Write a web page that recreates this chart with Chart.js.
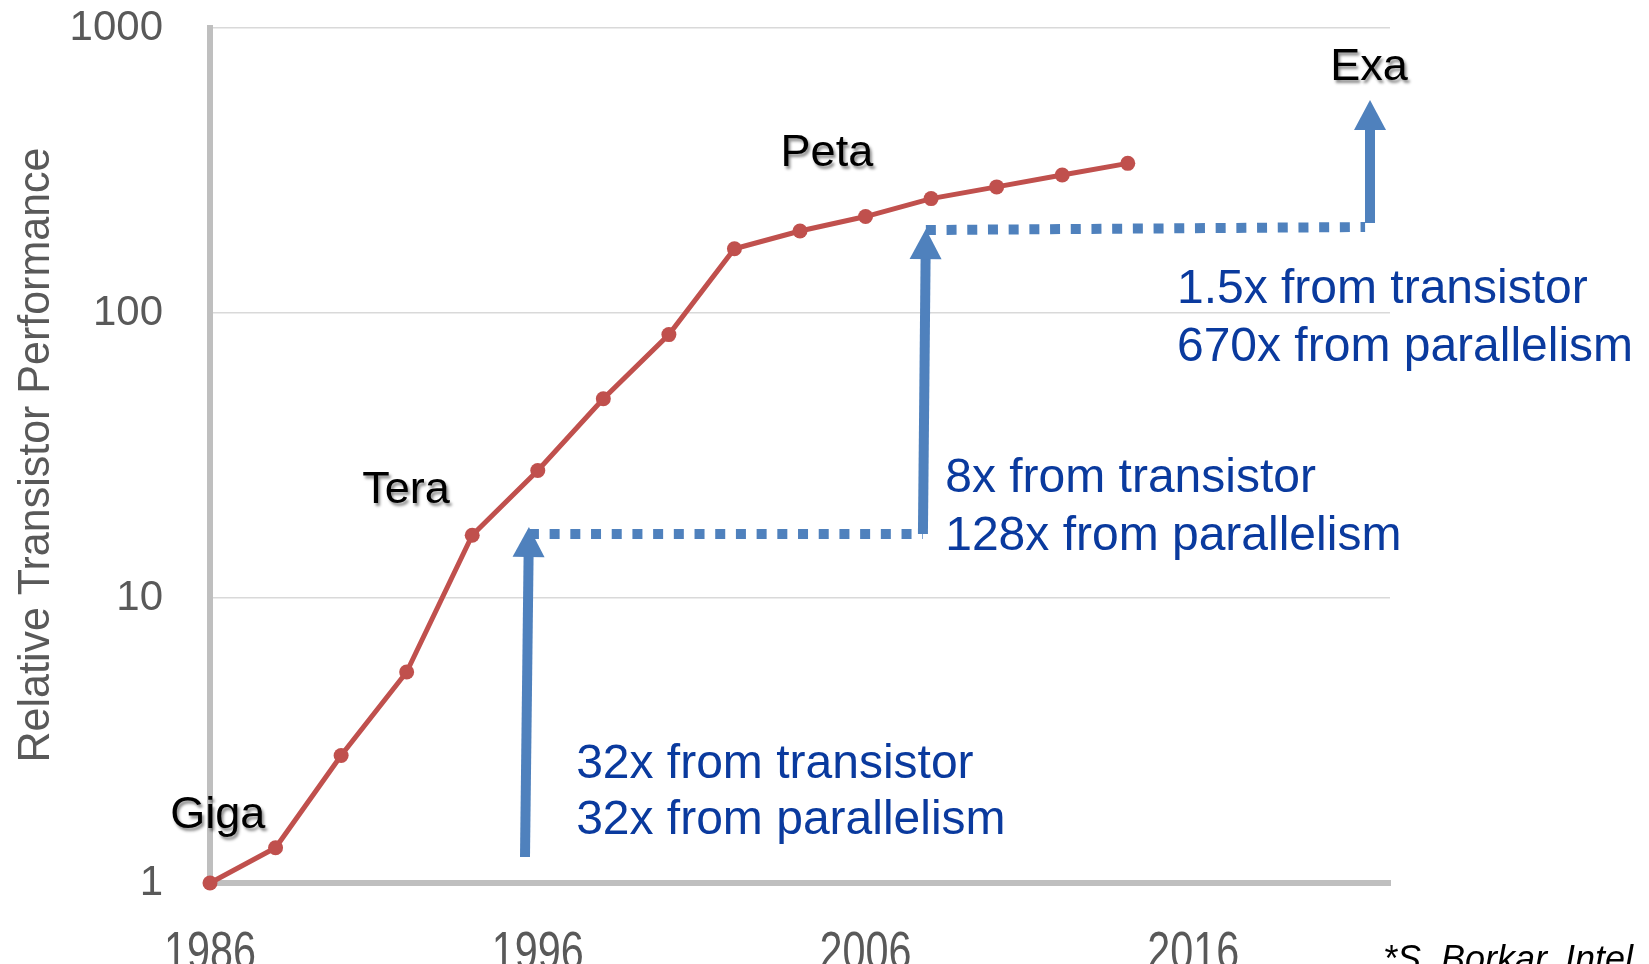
<!DOCTYPE html>
<html>
<head>
<meta charset="utf-8">
<title>Relative Transistor Performance</title>
<script src="https://cdn.jsdelivr.net/npm/chart.js@4/dist/chart.umd.min.js"></script>
<style>
  html, body { margin: 0; padding: 0; background: #ffffff; }
  canvas { display: block; }
</style>
</head>
<body>
<canvas id="chart" width="1649" height="964"></canvas>
<script>
// Relative transistor performance, one sample every two years
const years = [1986, 1988, 1990, 1992, 1994, 1996, 1998, 2000, 2002, 2004, 2006, 2008, 2010, 2012, 2014];
const performance = [1, 1.33, 2.8, 5.5, 16.6, 28, 50, 84, 168, 194, 218, 252, 277, 305, 335];

// Axis ticks
const xTickYears = [1986, 1996, 2006, 2016];
const yTickValues = [1, 10, 100, 1000];

// Era labels (text, year, value at baseline)
const eraNames = ['Giga', 'Tera', 'Peta', 'Exa'];
const eraX = [1986.24, 1991.98, 2004.82, 2021.36];
const eraY = [1.56, 21.5, 328, 657];

// Solid arrows: tail (x, y) -> tip (x, y)
const arrowFromX = [1995.61, 2007.75, 2021.39];
const arrowFromY = [1.234, 16.77, 206.9];
const arrowToX = [1995.73, 2007.84, 2021.39];
const arrowToY = [17.75, 197, 558.7];

// Dotted connectors between the arrows
const linkFromX = [1995.73, 2007.84];
const linkFromY = [16.77, 195.5];
const linkToX = [2007.75, 2021.24];
const linkToY = [16.77, 200.3];

// Gain notes: two lines each, left edge year and baseline values
const gainLine1 = ['32x from transistor', '8x from transistor', '1.5x from transistor'];
const gainLine2 = ['32x from parallelism', '128x from parallelism', '670x from parallelism'];
const gainX = [1997.17, 2008.43, 2015.5];
const gainY1 = [2.335, 23.55, 108.4];
const gainY2 = [1.486, 14.73, 67.9];

const yTitle = 'Relative Transistor Performance';
const sourceNote = '*S. Borkar, Intel';

const FONT = '"Liberation Sans", Arial, Helvetica, sans-serif';
const RED = '#c0504d';
const BLUE = '#4f81bd';
const NOTE_BLUE = '#0a3a9e';
const AXIS_GREY = '#bfbfbf';
const TEXT_GREY = '#595959';

function drawArrow(ctx, x0, y0, x1, y1) {
  const head = 30, half = 16;
  const dx = x1 - x0, dy = y1 - y0;
  const len = Math.hypot(dx, dy);
  const ux = dx / len, uy = dy / len;
  const bx = x1 - ux * head, by = y1 - uy * head;
  ctx.lineWidth = 10;
  ctx.lineCap = 'butt';
  ctx.beginPath();
  ctx.moveTo(x0, y0);
  ctx.lineTo(bx + ux, by + uy);
  ctx.stroke();
  ctx.beginPath();
  ctx.moveTo(x1, y1);
  ctx.lineTo(bx - uy * half, by + ux * half);
  ctx.lineTo(bx + uy * half, by - ux * half);
  ctx.closePath();
  ctx.fill();
}

// Draws text squeezed/stretched along its baseline to a given length
function drawFitted(ctx, text, x, y, font, width, align) {
  ctx.save();
  ctx.font = font;
  const natural = ctx.measureText(text).width;
  const sx = width / natural;
  ctx.translate(x, y);
  ctx.scale(sx, 1);
  ctx.textAlign = align;
  ctx.fillText(text, 0, 0);
  ctx.restore();
}

const annotations = {
  id: 'annotations',
  afterDatasetsDraw(chart) {
    const { ctx, scales: { x, y } } = chart;
    const px = v => x.getPixelForValue(v);
    const py = v => y.getPixelForValue(v);
    ctx.save();

    // dotted connectors
    ctx.strokeStyle = BLUE;
    ctx.lineWidth = 10;
    ctx.lineCap = 'butt';
    ctx.setLineDash([10, 10.7]);
    for (let i = 0; i < linkFromX.length; i++) {
      ctx.beginPath();
      ctx.moveTo(px(linkFromX[i]), py(linkFromY[i]));
      ctx.lineTo(px(linkToX[i]), py(linkToY[i]));
      ctx.stroke();
    }
    ctx.setLineDash([]);

    // arrows
    ctx.fillStyle = BLUE;
    for (let i = 0; i < arrowFromX.length; i++) {
      drawArrow(ctx, px(arrowFromX[i]), py(arrowFromY[i]), px(arrowToX[i]), py(arrowToY[i]));
    }

    // gain notes
    ctx.fillStyle = NOTE_BLUE;
    ctx.font = '48px ' + FONT;
    ctx.textAlign = 'left';
    ctx.textBaseline = 'alphabetic';
    for (let i = 0; i < gainX.length; i++) {
      ctx.fillText(gainLine1[i], px(gainX[i]), py(gainY1[i]));
      ctx.fillText(gainLine2[i], px(gainX[i]), py(gainY2[i]));
    }

    // era labels with a soft drop shadow
    ctx.save();
    ctx.fillStyle = '#000000';
    ctx.font = '45px ' + FONT;
    ctx.textAlign = 'center';
    ctx.shadowColor = 'rgba(0,0,0,0.45)';
    ctx.shadowOffsetX = 2;
    ctx.shadowOffsetY = 3;
    ctx.shadowBlur = 3;
    for (let i = 0; i < eraNames.length; i++) {
      ctx.fillText(eraNames[i], px(eraX[i]), py(eraY[i]));
    }
    ctx.restore();

    ctx.restore();
  },
  afterDraw(chart) {
    const { ctx, scales: { x } } = chart;
    ctx.save();
    ctx.textBaseline = 'alphabetic';

    // x tick labels (tall, narrow digits)
    ctx.fillStyle = TEXT_GREY;
    x.ticks.forEach(t => {
      drawFitted(ctx, String(t.value), x.getPixelForValue(t.value), 969, '54px ' + FONT, 92, 'center');
    });

    // y axis title
    ctx.save();
    ctx.translate(49, 455);
    ctx.rotate(-Math.PI / 2);
    ctx.fillStyle = TEXT_GREY;
    drawFitted(ctx, yTitle, 0, 0, '44px ' + FONT, 615, 'center');
    ctx.restore();

    // source note
    ctx.fillStyle = '#000000';
    ctx.font = 'italic 36px ' + FONT;
    ctx.textAlign = 'left';
    ctx.fillText(sourceNote, 1383, 971);

    ctx.restore();
  }
};

new Chart(document.getElementById('chart'), {
  type: 'line',
  data: {
    datasets: [{
      data: years.map((yr, i) => ({ x: yr, y: performance[i] })),
      borderColor: RED,
      backgroundColor: RED,
      borderWidth: 5,
      pointRadius: 7.5,
      pointBorderWidth: 0,
      pointBackgroundColor: RED,
      tension: 0,
      clip: false
    }]
  },
  options: {
    responsive: false,
    animation: false,
    devicePixelRatio: 1,
    layout: { padding: { top: 28, right: 259, bottom: 0, left: 0 } },
    plugins: {
      legend: { display: false },
      tooltip: { enabled: false },
      title: { display: false }
    },
    scales: {
      x: {
        type: 'linear',
        min: 1986,
        max: 2022,
        afterBuildTicks: s => { s.ticks = xTickYears.map(v => ({ value: v })); },
        afterFit: s => { s.height = 81; },
        grid: { display: false },
        border: { display: true, color: AXIS_GREY, width: 6 },
        ticks: { display: false }
      },
      y: {
        type: 'logarithmic',
        min: 1,
        max: 1000,
        afterBuildTicks: s => { s.ticks = yTickValues.map(v => ({ value: v })); },
        afterFit: s => { s.width = 210; },
        grid: {
          color: '#d9d9d9',
          lineWidth: 1.5,
          drawTicks: true,
          tickLength: 47,
          tickColor: 'rgba(0,0,0,0)'
        },
        border: { display: true, color: AXIS_GREY, width: 6 },
        ticks: {
          padding: 0,
          color: TEXT_GREY,
          font: { family: FONT, size: 42 },
          callback: v => String(v)
        }
      }
    }
  },
  plugins: [annotations]
});
</script>
</body>
</html>
